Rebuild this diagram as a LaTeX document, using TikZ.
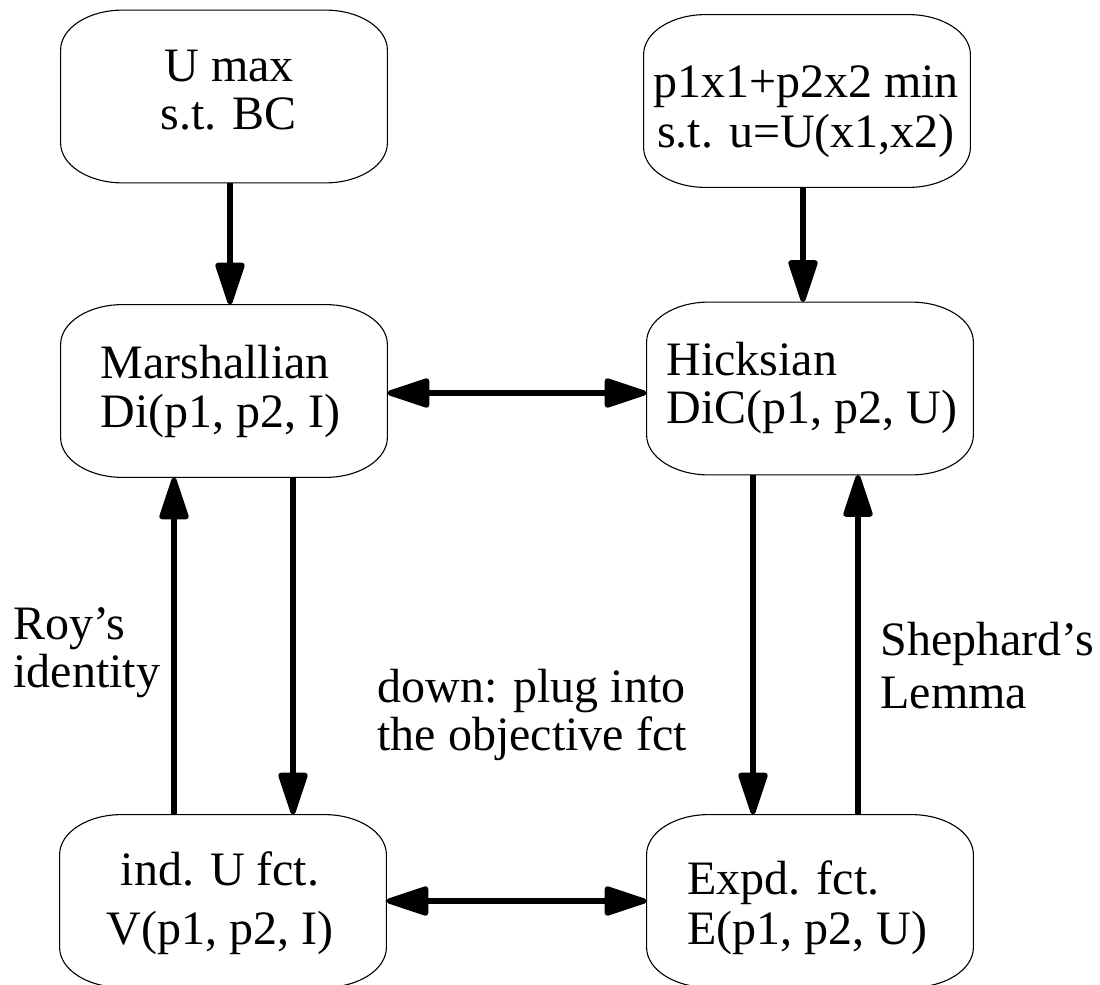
\documentclass[tikz,border=0pt]{standalone}
\usepackage{fontspec}
\setmainfont{Liberation Serif}
\usetikzlibrary{arrows.meta}
\begin{document}
\begin{tikzpicture}[x=0.5pt,y=0.5pt,
  boxn/.style={rectangle,inner sep=0pt,minimum width=163pt,minimum height=86pt},
  boxline/.style={draw=black,line width=0.55pt},
  txt/.style={inner sep=0pt,font=\fontsize{24}{24}\selectfont},
  tip/.tip={Triangle[length=24pt,width=15pt,round]},
  arr/.style={line width=2.6pt,-tip},
  dbl/.style={line width=2.6pt,tip-tip}]
\useasboundingbox (0,0) rectangle (1100,-985);
% boxes
\node[boxn] (umax) at (224,-96.5) {};
\node[boxn] (pmin) at (807,-101) {};
\node[boxn] (mar) at (224,-391) {};
\node[boxn] (hic) at (810,-388.5) {};
\node[boxn] (ind) at (223,-901) {};
\node[boxn] (exp) at (810,-901) {};
\foreach \n in {umax,pmin,mar,hic,ind,exp}
  \draw[boxline] ([xshift=31pt]\n.north west) -- ([xshift=-31pt]\n.north east)
    arc[start angle=90,end angle=0,x radius=31pt,y radius=20pt]
    -- ([yshift=20pt]\n.south east)
    arc[start angle=0,end angle=-90,x radius=31pt,y radius=20pt]
    -- ([xshift=31pt]\n.south west)
    arc[start angle=270,end angle=180,x radius=31pt,y radius=20pt]
    -- ([yshift=-20pt]\n.north west)
    arc[start angle=180,end angle=90,x radius=31pt,y radius=20pt] -- cycle;
% texts
\node[txt,anchor=north,align=center] (umaxT) at (229,-50) {U max\\s.t. BC};
\node[txt,anchor=north,align=center,font=\fontsize{24}{25}\selectfont] (pminT) at (806,-65) {p1x1+p2x2 min\\s.t. u=U(x1,x2)};
\node[txt,anchor=north west,align=left,font=\fontsize{24}{24.5}\selectfont] (marT) at (100,-345) {Marshallian\\Di(p1, p2, I)};
\node[txt,anchor=north west,align=left] (hicT) at (666,-342) {Hicksian\\DiC(p1, p2, U)};
\node[txt,anchor=north,align=center,font=\fontsize{24}{29.5}\selectfont] (indT) at (220,-851) {ind. U fct.\\V(p1, p2, I)};
\node[txt,anchor=north west,align=left,font=\fontsize{24}{25}\selectfont] (expT) at (687,-860) {Expd. fct.\\E(p1, p2, U)};
\node[txt,anchor=north west,align=left] (royT) at (13,-607) {Roy’s\\identity};
\node[txt,anchor=north west,align=left] (downT) at (377,-669) {down: plug into\\the objective fct};
\node[txt,anchor=north west,align=left,font=\fontsize{24}{26.5}\selectfont] (shepT) at (880,-622) {Shephard’s\\Lemma};
% connectors
\draw[arr] ([xshift=3pt]umax.south) -- ([xshift=3pt]umax.south |- mar.north);
\draw[arr] ([xshift=-2pt]pmin.south) -- ([xshift=-2pt]pmin.south |- hic.north);
\draw[dbl] ([yshift=-1pt]mar.east) -- ([yshift=-1pt]mar.east -| hic.west);
\draw[dbl] (ind.east) -- (ind.east -| exp.west);
\draw[arr] ([xshift=34.5pt]mar.south) -- ([xshift=34.5pt]mar.south |- ind.north);
\draw[arr] ([xshift=-24.5pt]ind.north) -- ([xshift=-24.5pt]ind.north |- mar.south);
\draw[arr] ([xshift=-28.5pt]hic.south) -- ([xshift=-28.5pt]hic.south |- exp.north);
\draw[arr] ([xshift=24pt]exp.north) -- ([xshift=24pt]exp.north |- hic.south);
\end{tikzpicture}
\end{document}
